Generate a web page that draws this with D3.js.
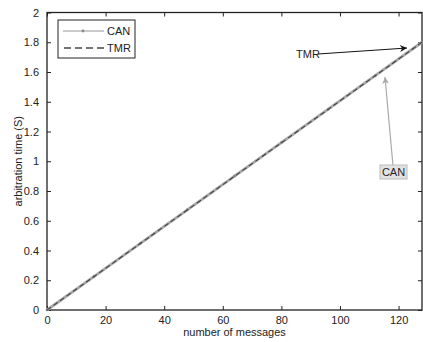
<!DOCTYPE html>
<html><head><meta charset="utf-8">
<script src="https://cdn.jsdelivr.net/npm/d3@7"></script>
<style>body{margin:0;background:#fff}svg{display:block}text{font-family:"Liberation Sans",Arial,sans-serif}</style>
</head><body><svg id="c" width="423" height="342"></svg>
<script>
const messages = [0,16,32,48,64,80,96,112,128];
const canTime  = [0,0.225,0.45,0.675,0.90,1.125,1.35,1.575,1.80];
const tmrTime  = [0,0.224,0.449,0.674,0.899,1.124,1.349,1.574,1.80];
const xTicks = [0,20,40,60,80,100,120];
const yTicks = [0,0.2,0.4,0.6,0.8,1,1.2,1.4,1.6,1.8,2];
const seriesNames = ["CAN","TMR"];

const svg = d3.select("#c");
const L=47,R=422,T=12.5,B=310;
const x = d3.scaleLinear().domain([0,128]).range([L,R]);
const y = d3.scaleLinear().domain([0,2]).range([B,T]);

const font = 11, tc="#222";
svg.append("rect").attr("x",L).attr("y",T).attr("width",R-L).attr("height",B-T)
  .attr("fill","none").attr("stroke","#222").attr("stroke-width",1.3);

const ax = svg.append("g").attr("transform",`translate(0,${B})`)
  .call(d3.axisBottom(x).tickValues(xTicks).tickSize(-4).tickPadding(6).tickFormat(d3.format("d")));
const axT = svg.append("g").attr("transform",`translate(0,${T})`)
  .call(d3.axisTop(x).tickValues(xTicks).tickSize(-4).tickFormat(""));
const ay = svg.append("g").attr("transform",`translate(${L},0)`)
  .call(d3.axisLeft(y).tickValues(yTicks).tickSize(-4).tickPadding(8).tickFormat(d=>d3.format("~g")(d)));
const ayR = svg.append("g").attr("transform",`translate(${R},0)`)
  .call(d3.axisRight(y).tickValues(yTicks).tickSize(-4).tickFormat(""));
[ax,axT,ay,ayR].forEach(g=>{
  g.select(".domain").remove();
  g.selectAll(".tick line").attr("stroke","#222").attr("stroke-width",1);
  g.selectAll(".tick text").attr("fill",tc).style("font-size",font+"px").style("font-family","Liberation Sans, Arial, sans-serif");
});

svg.append("text").attr("x",(L+R)/2).attr("y",336).attr("text-anchor","middle")
  .attr("fill",tc).style("font-size",font+"px").text("number of messages");
svg.append("text").attr("transform",`translate(22,${(T+B)/2}) rotate(-90)`).attr("text-anchor","middle")
  .attr("fill",tc).style("font-size",font+"px").text("arbitration time (S)");

const lineGen = vals => d3.line().x((d,i)=>x(messages[i])).y(d=>y(d))(vals);
svg.append("path").attr("d",lineGen(canTime)).attr("fill","none").attr("stroke","#a8a8a8").attr("stroke-width",2.8);
svg.append("g").selectAll("circle").data(canTime).join("circle")
  .attr("cx",(d,i)=>x(messages[i])).attr("cy",d=>y(d)).attr("r",1.3).attr("fill","#888");
svg.append("path").attr("d",lineGen(tmrTime)).attr("fill","none").attr("stroke","#444").attr("stroke-width",1.1).attr("stroke-dasharray","5,3");

const lg = svg.append("g");
lg.append("rect").attr("x",58).attr("y",20).attr("width",77).attr("height",38).attr("fill","#fff").attr("stroke","#222").attr("stroke-width",1);
lg.append("line").attr("x1",63).attr("x2",104).attr("y1",31).attr("y2",31).attr("stroke","#9a9a9a").attr("stroke-width",1.2);
lg.append("circle").attr("cx",83).attr("cy",31).attr("r",1.4).attr("fill","#888");
lg.append("line").attr("x1",64).attr("x2",104).attr("y1",48).attr("y2",48).attr("stroke","#444").attr("stroke-width",1.3).attr("stroke-dasharray","7,4");
lg.selectAll("text.lt").data(seriesNames).join("text").attr("class","lt")
  .attr("x",107).attr("y",(d,i)=>31+i*17+4).attr("fill",tc).style("font-size",font+"px").text(d=>d);

const defs = svg.append("defs");
function marker(id,col){
  defs.append("marker").attr("id",id).attr("viewBox","0 0 10 10").attr("refX",10).attr("refY",5)
    .attr("markerWidth",10).attr("markerHeight",7).attr("markerUnits","userSpaceOnUse").attr("orient","auto")
    .append("path").attr("d","M0,0 L10,5 L0,10 L3,5 Z").attr("fill",col);
}
marker("ab","#111"); marker("ag","#aaa");
svg.append("text").attr("x",296).attr("y",58).attr("fill",tc).style("font-size",font+"px").text(seriesNames[1]);
svg.append("line").attr("x1",318).attr("y1",54).attr("x2",407).attr("y2",48).attr("stroke","#111").attr("stroke-width",1).attr("marker-end","url(#ab)");
svg.append("line").attr("x1",393).attr("y1",166).attr("x2",385).attr("y2",77).attr("stroke","#aaa").attr("stroke-width",1.2).attr("marker-end","url(#ag)");
svg.append("rect").attr("x",380).attr("y",165).attr("width",27).attr("height",14).attr("fill","#e2e2e2").attr("stroke","#bbb");
svg.append("text").attr("x",393.5).attr("y",176).attr("text-anchor","middle").attr("fill",tc).style("font-size",font+"px").text(seriesNames[0]);
</script></body></html>
